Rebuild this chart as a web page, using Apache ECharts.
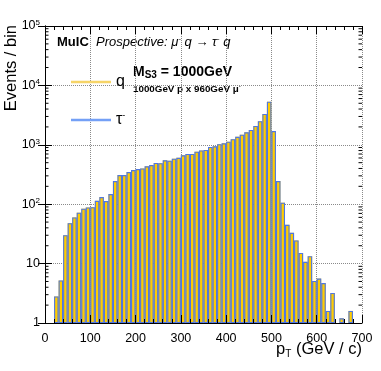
<!DOCTYPE html>
<html>
<head>
<meta charset="utf-8">
<script src="https://cdn.jsdelivr.net/npm/echarts@6/dist/echarts.min.js"></script>
<style>
  html, body { margin: 0; padding: 0; background: #fff; }
  #chart { width: 381px; height: 371px; }
</style>
</head>
<body>
<div id="chart"></div>
<script>
// p_T bins, 10 GeV wide (lower edge)
const bins = ["0", "10", "20", "30", "40", "50", "60", "70", "80", "90",
  "100", "110", "120", "130", "140", "150", "160", "170", "180", "190",
  "200", "210", "220", "230", "240", "250", "260", "270", "280", "290",
  "300", "310", "320", "330", "340", "350", "360", "370", "380", "390",
  "400", "410", "420", "430", "440", "450", "460", "470", "480", "490",
  "500", "510", "520", "530", "540", "550", "560", "570", "580", "590",
  "600", "610", "620", "630", "640", "650", "660", "670", "680", "690"];

// events / bin (q and tau- spectra overlap)
const qEvents = ["-", "-", 2.8, 5.2, 30, 48, 60, 72, 84, 88,
  89, 114, 132, 113, 148, 245, 309, 309, 347, 376,
  390, 400, 434, 456, 494, 490, 548, 540, 582, 604,
  665, 703, 703, 767, 805, 817, 918, 944, 1025, 1060,
  1125, 1240, 1360, 1480, 1620, 1780, 2075, 2490, 3300, 5330,
  1700, 245, 106, 45, 33, 24.6, 15.1, 10.7, 13.3, 5.1,
  5.6, 4.7, 1.6, 3.2, "-", 1.2, "-", 1.6, "-", "-"];
const tauEvents = qEvents.slice();

const xTicks = [0, 700, 100];        // min, max, step
const yDecades = [1, 10, 100, 1000, 10000];
const yMantissa = [2, 3, 4, 5, 6, 7, 8, 9];

const FONT = "Liberation Sans, Arial, Helvetica, sans-serif";

// small log ticks (2..9 per decade) on both frame sides
const minorTicks = [];
yDecades.forEach(function (d) {
  yMantissa.forEach(function (m) { minorTicks.push([0, d * m]); });
});

const chart = echarts.init(document.getElementById("chart"));

const option = {
  animation: false,
  backgroundColor: "#ffffff",
  textStyle: { fontFamily: FONT },
  grid: { left: 45, right: 19, top: 26, bottom: 48 },
  legend: {
    orient: "vertical",
    left: 66,
    top: 69,
    itemWidth: 40,
    itemHeight: 2.5,
    itemGap: 21,
    icon: "rect",
    selectedMode: false,
    textStyle: {
      fontSize: 16,
      color: "#000",
      fontFamily: FONT,
      rich: { s: { fontSize: 9, padding: [0, 0, 9, 0], fontFamily: FONT } }
    },
    formatter: function (name) {
      return name === "tau" ? "τ{s|-}" : name;
    },
    data: [
      { name: "q", itemStyle: { color: "#f6d468", borderWidth: 0 } },
      { name: "tau", itemStyle: { color: "#74a0f6", borderWidth: 0 } }
    ]
  },
  xAxis: [
    {
      // bins for the histogram bars
      type: "category",
      data: bins,
      show: false,
      boundaryGap: true
    },
    {
      type: "value",
      position: "bottom",
      min: xTicks[0],
      max: xTicks[1],
      interval: xTicks[2],
      z: 10,
      axisLine: { lineStyle: { color: "#000", width: 1 } },
      axisTick: { inside: true, length: 8, lineStyle: { color: "#000" } },
      minorTick: { show: true, splitNumber: 5, length: 4, lineStyle: { color: "#000" } },
      axisLabel: { fontSize: 12.5, color: "#000", margin: 9, fontFamily: FONT },
      splitLine: { show: false }
    },
    {
      type: "value",
      position: "top",
      min: xTicks[0],
      max: xTicks[1],
      interval: xTicks[2],
      axisLine: { lineStyle: { color: "#000", width: 1 } },
      axisTick: { inside: true, length: 8, lineStyle: { color: "#000" } },
      minorTick: { show: true, splitNumber: 5, length: 4, lineStyle: { color: "#000" } },
      axisLabel: { show: false },
      splitLine: { show: true, lineStyle: { color: "#8a8a8a", type: "dotted", width: 1 } }
    }
  ],
  yAxis: [
    {
      type: "log",
      logBase: 10,
      min: 1,
      max: 100000,
      position: "left",
      z: 10,
      axisLine: { show: true, lineStyle: { color: "#000", width: 1 } },
      axisTick: { show: true, inside: true, length: 7, lineStyle: { color: "#000" } },
      axisLabel: {
        fontSize: 12.5,
        color: "#000",
        margin: 5,
        fontFamily: FONT,
        formatter: function (v) {
          if (v === 1) return "1";
          if (v === 10) return "10";
          return "10{s|" + Math.round(Math.log10(v)) + "}";
        },
        rich: { s: { fontSize: 8, padding: [0, 0, 7, 0], fontFamily: FONT } }
      },
      splitLine: { show: false }
    },
    {
      type: "log",
      logBase: 10,
      min: 1,
      max: 100000,
      position: "right",
      axisLine: { show: true, lineStyle: { color: "#000", width: 1 } },
      axisTick: { show: true, inside: true, length: 7, lineStyle: { color: "#000" } },
      axisLabel: { show: false },
      splitLine: { show: true, lineStyle: { color: "#8a8a8a", type: "dotted", width: 1 } }
    }
  ],
  graphic: [
    {
      type: "text", x: 11, y: 25, rotation: Math.PI / 2,
      style: { text: "Events / bin", font: "16.5px " + FONT, fill: "#000", align: "right", verticalAlign: "middle" }
    },
    {
      type: "text", right: 19, top: 341,
      style: {
        text: "p{s|T} (GeV / c)", font: "16.5px " + FONT, fill: "#000",
        rich: { s: { fontSize: 10, padding: [9, 0, 0, 0], fontFamily: FONT } }
      }
    },
    {
      type: "text", x: 57, y: 42,
      style: { text: "MuIC", font: "bold 13px " + FONT, fill: "#000", verticalAlign: "middle" }
    },
    {
      type: "text", x: 96, y: 42,
      style: {
        text: "Prospective: μ{s|-} q → τ{s|-} q", font: "italic 13px " + FONT, fill: "#000", verticalAlign: "middle",
        rich: { s: { fontSize: 8, fontStyle: "italic", padding: [0, 0, 7, 0], fontFamily: FONT } }
      }
    },
    {
      type: "text", x: 133, y: 72,
      style: {
        text: "M{s|S3} = 1000GeV", font: "bold 14px " + FONT, fill: "#000", verticalAlign: "middle",
        rich: { s: { fontSize: 10, fontWeight: "bold", padding: [7, 0, 0, 0], fontFamily: FONT } }
      }
    },
    {
      type: "text", x: 133, y: 89,
      style: {
        text: "1000GeV p x 960GeV μ{s|-}", font: "bold 9.8px " + FONT, fill: "#000", verticalAlign: "middle",
        rich: { s: { fontSize: 6, padding: [0, 0, 5, 0], fontFamily: FONT } }
      }
    }
  ],
  series: [
    {
      name: "q",
      type: "bar",
      xAxisIndex: 0,
      yAxisIndex: 0,
      barCategoryGap: "0%",
      barGap: "-100%",
      itemStyle: { color: "#ffcc00", borderWidth: 0 },
      data: qEvents
    },
    {
      name: "tau",
      type: "bar",
      xAxisIndex: 0,
      yAxisIndex: 0,
      barCategoryGap: "0%",
      barGap: "-100%",
      itemStyle: { color: "rgba(0,0,0,0)", borderColor: "rgba(60,110,250,0.9)", borderWidth: 1.1 },
      data: tauEvents
    },
    {
      name: "ticks",
      type: "custom",
      xAxisIndex: 1,
      yAxisIndex: 0,
      z: 20,
      silent: true,
      renderItem: function (params, api) {
        const v = api.value(1);
        const l = api.coord([xTicks[0], v]);
        const r = api.coord([xTicks[1], v]);
        const st = { stroke: "#000", lineWidth: 1 };
        return {
          type: "group",
          children: [
            { type: "line", shape: { x1: l[0], y1: l[1], x2: l[0] + 3.5, y2: l[1] }, style: st },
            { type: "line", shape: { x1: r[0], y1: r[1], x2: r[0] - 3.5, y2: r[1] }, style: st }
          ]
        };
      },
      data: minorTicks
    }
  ]
};

chart.setOption(option);
</script>
</body>
</html>
